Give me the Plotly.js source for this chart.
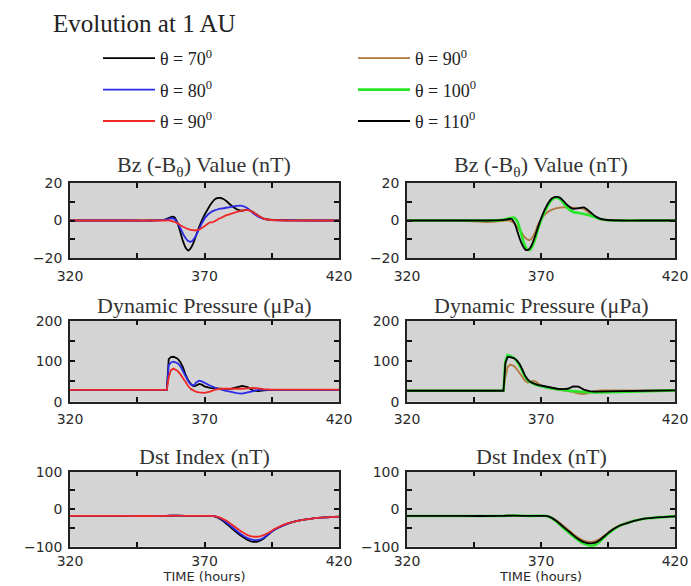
<!DOCTYPE html>
<html>
<head>
<meta charset="utf-8">
<script src="https://cdn.plot.ly/plotly-3.0.1.min.js"></script>
<style>html,body{margin:0;padding:0;background:#fff;}#chart{width:691px;height:586px;}</style>
</head>
<body>
<div id="chart"></div>
<script>
// ---------- data ----------
const bzHours = [320,340,350,355,357,358,359,360,361,362,363,364,365,366,367,368,369,370,371,372,373,374,375,376,377,378,380,382,384,386,388,390,392,394,400,410,420];
const bzTheta70  = [0,0,0,0.3,1.5,2,1.5,-1.5,-6,-11,-14.5,-16,-14.5,-11.5,-7.5,-3.5,0,3,5.5,8,10,11.5,12,12,11.5,10.5,8,6,5.2,5.8,4.5,2.5,1,0.5,0.2,0,0];
const bzTheta80  = [0,0,0,0.3,1,1.2,0.5,-1.5,-4,-7,-9.5,-11,-11.3,-10,-7.5,-4.5,-1.5,1,2.8,4,5,5.5,6,6.3,6.5,6.8,7.3,7.8,7.8,6.5,4,2,0.8,0.3,0,0,0];
const bzTheta90L = [0,0,0,0,0,-0.3,-0.8,-1.5,-2.5,-3.3,-4,-4.6,-5,-5.2,-5.2,-4.8,-4,-3,-2,-1,-1,-0.2,0.6,1.3,2,2.7,3.7,4.6,5.3,5.6,4.5,2.5,1,0.4,0,0,0];
const bzTheta90R = [0,0,-0.8,-0.3,0,0,-0.5,-1.5,-3,-5,-7,-9,-10.2,-10.4,-8.5,-5.5,-2,0.5,2.5,4,5,5.7,6.2,6.6,6.9,7,7,6.8,6.6,6.2,4,2,0.6,0.2,0,0,0];
const bzTheta100 = [0,0,0,0.2,0.8,1.2,1.5,1.5,0,-4,-9,-13.5,-15.5,-15.5,-13,-9,-4,0,3.5,6.5,9,11,12,12.2,11.5,10,6.5,4.5,4,3.5,2.8,1.8,0.8,0.3,0,0,0];
const bzTheta110 = [0,0,0,0.2,0.5,0.8,0.8,-1,-5,-9.5,-13,-15.3,-15.8,-14.5,-11.5,-7.5,-3,1,4.5,7.5,10,11.7,12.5,12.6,12.2,11,8,6.2,6.5,7,5,2.5,1,0.4,0,0,0];

const pdHours = [320,340,350,356,356.7,357.5,358.5,360,361,362,363,364,365,366,367,368,369,370,372,374,376,378,380,382,384,386,388,390,392,395,400,410,420];
const pdTheta70  = [29,29,29,29,105,110,111,106,98,85,66,52,43,38,40,44,42,38,34,33,31,31,32,35,39,36,28,26,28,29,29,29,29];
const pdTheta80  = [29,29,29,29,90,97,99,95,88,76,62,50,42,40,48,52,50,46,40,34,30,27,24,21,20,23,27,29,29,29,29,29,29];
const pdTheta90L = [29,29,29,29,60,78,82,76,68,57,46,38,31,27,24,23,22,22,25,30,32,32,31,31,32,33,34,33,31,30,30,30,30];
const pdTheta90R = [27,27,27,27,60,85,92,88,80,70,60,52,47,48,52,50,45,40,35,32,30,28,26,24,20,19,22,26,28,28,28,28,28];
const pdTheta100 = [27,27,27,27,100,115,113,108,100,90,76,62,53,48,45,42,40,38,35,33,31,29,27,26,25,24,23,23,23,23,24,26,28];
const pdTheta110 = [27,27,27,27,95,110,110,107,102,93,80,65,55,49,46,43,41,40,37,34,32,31,32,38,37,30,26,25,25,25,26,27,28];

const dstHours = [320,340,355,360,365,372,374,376,378,380,382,384,386,388,390,392,394,396,398,400,403,406,410,415,420];
const dstTheta70  = [-18,-18,-18,-17,-18,-18,-20,-27,-38,-50,-62,-73,-82,-87,-86,-78,-66,-55,-47,-41,-34,-29,-25,-22,-20];
const dstTheta80  = [-18,-18,-18,-17,-18,-18,-19,-25,-35,-46,-58,-69,-77,-82,-82,-76,-65,-55,-47,-41,-34,-29,-25,-22,-20];
const dstTheta90L = [-18,-18,-18,-17,-18,-18,-19,-23,-30,-40,-51,-61,-69,-73,-73,-69,-62,-53,-46,-40,-34,-29,-25,-22,-20];
const dstTheta90R = [-18,-18,-18,-17,-18,-18,-22,-31,-42,-54,-66,-76,-84,-87,-86,-79,-68,-57,-48,-41,-34,-29,-24,-21,-19];
const dstTheta100 = [-18,-18,-18,-17,-18,-18,-24,-35,-48,-60,-72,-83,-92,-97,-96,-86,-72,-60,-50,-42,-35,-29,-24,-21,-19];
const dstTheta110 = [-18,-18,-18,-17,-18,-18,-23,-33,-45,-57,-69,-80,-88,-91,-90,-82,-70,-58,-49,-42,-35,-29,-24,-21,-19];

const leftLabels  = ['θ = 70<sup>0</sup>','θ = 80<sup>0</sup>','θ = 90<sup>0</sup>'];
const rightLabels = ['θ = 90<sup>0</sup>','θ = 100<sup>0</sup>','θ = 110<sup>0</sup>'];
const leftColors  = ['#000000','#2a2ae6','#f02828'];
const rightColors = ['#b0783c','#28e628','#000000'];

const panelTitles = ['Bz (-B<sub>θ</sub>) Value (nT)','Dynamic Pressure (μPa)','Dst Index (nT)'];

// ---------- traces ----------
const leftSeries = [
  {bz:bzTheta70, pd:pdTheta70, dst:dstTheta70},
  {bz:bzTheta80, pd:pdTheta80, dst:dstTheta80},
  {bz:bzTheta90L, pd:pdTheta90L, dst:dstTheta90L}
];
const rightSeries = [
  {bz:bzTheta90R, pd:pdTheta90R, dst:dstTheta90R},
  {bz:bzTheta100, pd:pdTheta100, dst:dstTheta100},
  {bz:bzTheta110, pd:pdTheta110, dst:dstTheta110}
];

const SERIF = "'Liberation Serif', 'Times New Roman', Times, serif";
const SANS = "'DejaVu Sans', Verdana, sans-serif";

const traces = [];
function addSide(series, labels, colors, side) {
  const legendName = side === 0 ? 'legend' : 'legend2';
  series.forEach((s, i) => {
    const grp = 'g' + side + i;
    const w = colors[i] === '#28e628' ? 2.6 : 1.8;
    const panels = [
      {x: bzHours, y: s.bz, row: 0, shape: 'spline'},
      {x: pdHours, y: s.pd, row: 1, shape: 'linear'},
      {x: dstHours, y: s.dst, row: 2, shape: 'spline'}
    ];
    panels.forEach((p) => {
      const n = p.row * 2 + side + 1;
      traces.push({
        x: p.x, y: p.y, type: 'scatter', mode: 'lines',
        line: {color: colors[i], width: w, shape: p.shape, smoothing: 0.6},
        xaxis: 'x' + (n === 1 ? '' : n), yaxis: 'y' + (n === 1 ? '' : n),
        name: labels[i], legendgroup: grp, legend: legendName,
        showlegend: p.row === 0, hoverinfo: 'x+y'
      });
    });
  });
}
addSide(leftSeries, leftLabels, leftColors, 0);
addSide(rightSeries, rightLabels, rightColors, 1);

// ---------- layout ----------
const W = 691, H = 586;
const colDom = [[70/W, 339/W], [407/W, 675/W]];
const rowDom = [[1-258/H, 1-183/H], [1-401.7/H, 1-320.7/H], [1-546.7/H, 1-471.7/H]];
const yRanges = [[-20,20],[0,200],[-100,100]];
const yTicks = [[-20,-10,0,10,20],[0,50,100,150,200],[-100,-50,0,50,100]];
const yTickText = [['−20','','0','','20'],['0','','100','','200'],['−100','','0','','100']];
const tickFont = {family: SANS, size: 14, color: '#2a2a2a'};

const legendCommon = {
  xanchor: 'left', yanchor: 'top',
  font: {family: SERIF, size: 18, color: '#222'},
  bgcolor: 'rgba(0,0,0,0)', itemwidth: 52, tracegroupgap: 5
};

const layout = {
  width: W, height: H,
  margin: {l:0, r:0, t:0, b:0},
  paper_bgcolor: '#ffffff',
  plot_bgcolor: '#d4d4d4',
  showlegend: true,
  legend: Object.assign({x: 98/W, y: 1-40/H}, legendCommon),
  legend2: Object.assign({x: 353/W, y: 1-40/H}, legendCommon),
  annotations: [
    {text: 'Evolution at 1 AU', xref: 'paper', yref: 'paper', x: 51/W, y: 1-23/H,
     xanchor: 'left', yanchor: 'middle', showarrow: false,
     font: {family: SERIF, size: 25, color: '#222'}}
  ]
};

for (let r = 0; r < 3; r++) {
  for (let c = 0; c < 2; c++) {
    const n = r * 2 + c + 1;
    const suf = n === 1 ? '' : n;
    layout['xaxis' + suf] = {
      domain: colDom[c], range: [320, 420], anchor: 'y' + suf,
      tickvals: [320,345,370,395,420], ticktext: ['320','','370','','420'],
      ticks: 'inside', ticklen: 5, tickwidth: 1.5, tickcolor: '#111',
      showline: true, linecolor: '#222', linewidth: 1.5, mirror: 'ticks',
      showgrid: false, zeroline: false, tickfont: tickFont,
      ticklabelstandoff: r === 2 ? 1 : 4,
      fixedrange: true
    };
    if (r === 2) {
      layout['xaxis' + suf].title = {text: 'TIME (hours)', font: {family: SANS, size: 13, color: '#2a2a2a'}, standoff: 4};
    }
    layout['yaxis' + suf] = {
      domain: rowDom[r], range: yRanges[r], anchor: 'x' + suf,
      tickvals: yTicks[r], ticktext: yTickText[r],
      ticks: 'inside', ticklen: 5, tickwidth: 1.5, tickcolor: '#111',
      showline: true, linecolor: '#222', linewidth: 1.5, mirror: 'ticks',
      showgrid: false, zeroline: false, tickfont: tickFont, ticklabelstandoff: 3,
      fixedrange: true
    };
    layout.annotations.push({
      text: panelTitles[r], xref: 'paper', yref: 'paper',
      x: (colDom[c][0] + colDom[c][1]) / 2, y: rowDom[r][1],
      xanchor: 'center', yanchor: 'bottom', yshift: 1, showarrow: false,
      font: {family: SERIF, size: 22, color: '#333'}
    });
  }
}

Plotly.newPlot('chart', traces, layout, {displayModeBar: false, responsive: false});
</script>
</body>
</html>
